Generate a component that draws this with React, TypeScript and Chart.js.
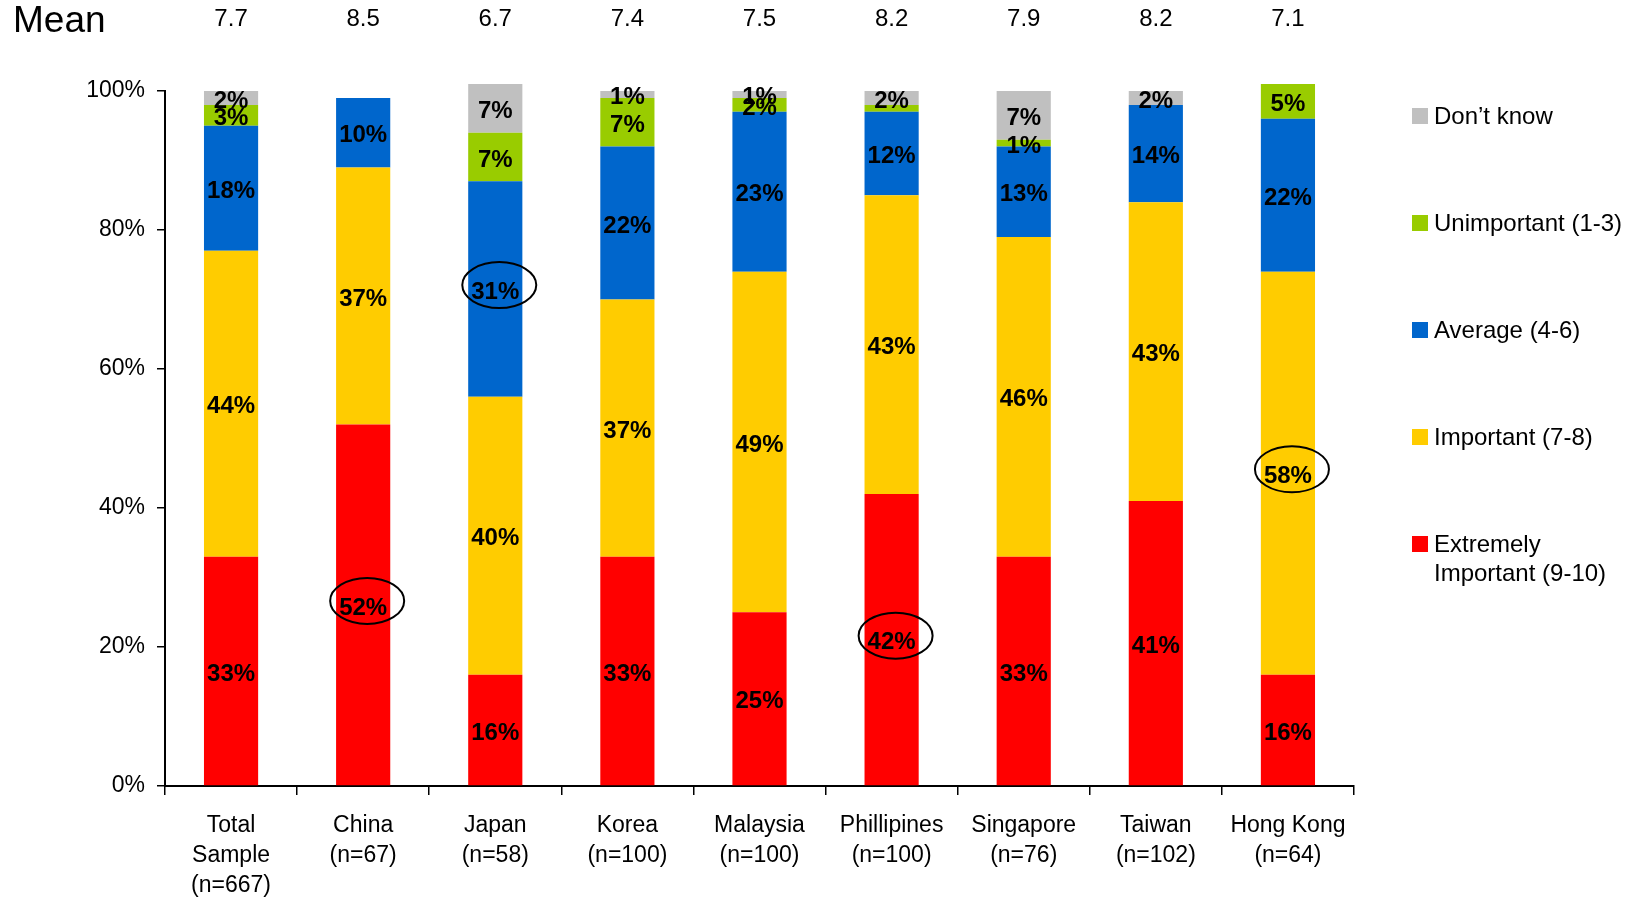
import { useEffect, useRef } from "react";
import { Chart, registerables } from "chart.js";
Chart.register(...registerables);

const categories = [
  ["Total", "Sample", "(n=667)"],
  ["China", "(n=67)"],
  ["Japan", "(n=58)"],
  ["Korea", "(n=100)"],
  ["Malaysia", "(n=100)"],
  ["Phillipines", "(n=100)"],
  ["Singapore", "(n=76)"],
  ["Taiwan", "(n=102)"],
  ["Hong Kong", "(n=64)"],
];
const means = ["7.7", "8.5", "6.7", "7.4", "7.5", "8.2", "7.9", "8.2", "7.1"];

const extremelyImportant = [33, 52, 16, 33, 25, 42, 33, 41, 16];
const important = [44, 37, 40, 37, 49, 43, 46, 43, 58];
const average = [18, 10, 31, 22, 23, 12, 13, 14, 22];
const unimportant = [3, 0, 7, 7, 2, 1, 1, 0, 5];
const dontKnow = [2, 0, 7, 1, 1, 2, 7, 2, 0];

const seriesNames = [
  ["Extremely", "Important (9-10)"],
  ["Important (7-8)"],
  ["Average (4-6)"],
  ["Unimportant (1-3)"],
  ["Don\u2019t know"],
];
const seriesColors = ["#FF0000", "#FFCC00", "#0066CC", "#99CC00", "#C0C0C0"];

const yTicks = [0, 20, 40, 60, 80, 100];

// [series index, category index] of segments without a label
const unlabeled = [[3, 5]];
// [series index, category index] of circled labels
const circled = [[0, 1], [2, 2], [0, 5], [1, 8]];

const FONT = "'Liberation Sans', Arial, Helvetica, sans-serif";

export default function App() {
  const ref = useRef<HTMLCanvasElement | null>(null);
  useEffect(() => {
    document.body.style.margin = "0";
    const series = [extremelyImportant, important, average, unimportant, dontKnow];
    const overlay = {
      id: "overlay",
      afterDatasetsDraw(chart: any) {
        const ctx = chart.ctx;
        const area = chart.chartArea;
        ctx.save();
        // segment labels
        ctx.fillStyle = "#000";
        ctx.font = `bold 24px ${FONT}`;
        ctx.textAlign = "center";
        ctx.textBaseline = "middle";
        chart.data.datasets.forEach((ds: any, di: number) => {
          const meta = chart.getDatasetMeta(di);
          meta.data.forEach((el: any, i: number) => {
            const v = ds.data[i];
            if (!v) return;
            if (unlabeled.some(([a, b]) => a === di && b === i)) return;
            const cy = (el.y + el.base) / 2 + 3;
            ctx.fillText(v + "%", el.x, cy);
          });
        });
        // ellipses
        ctx.strokeStyle = "#000";
        ctx.lineWidth = 2;
        circled.forEach(([di, i]) => {
          const el = chart.getDatasetMeta(di).data[i];
          const cx = el.x + 4;
          const cy = (el.y + el.base) / 2 - 4;
          ctx.beginPath();
          ctx.ellipse(cx, cy, 37, 23, 0, 0, Math.PI * 2);
          ctx.stroke();
        });
        // mean row
        ctx.font = `24px ${FONT}`;
        const m0 = chart.getDatasetMeta(0);
        means.forEach((m, i) => {
          ctx.fillText(m, m0.data[i].x, 19);
        });
        ctx.textAlign = "left";
        ctx.font = `37px ${FONT}`;
        ctx.fillText("Mean", 13, 22);
        // legend
        ctx.font = `24px ${FONT}`;
        const lx = area.right + 58;
        const ly0 = area.top + 25;
        const step = 107;
        for (let k = 0; k < seriesNames.length; k++) {
          const si = seriesNames.length - 1 - k;
          const y = ly0 + k * step;
          ctx.fillStyle = seriesColors[si];
          ctx.fillRect(lx, y - 8, 16, 16);
          ctx.fillStyle = "#000";
          seriesNames[si].forEach((line, li) => {
            ctx.fillText(line, lx + 22, y + 1 + li * 29);
          });
        }
        ctx.restore();
      },
    };
    const chart = new Chart(ref.current as HTMLCanvasElement, {
      type: "bar",
      data: {
        labels: categories,
        datasets: series.map((d, i) => ({
          label: seriesNames[i].join(" "),
          data: d,
          backgroundColor: seriesColors[i],
          borderWidth: 0,
          clip: false as any,
          categoryPercentage: 1,
          barPercentage: 0.41,
        })),
      },
      options: {
        animation: false,
        responsive: false,
        maintainAspectRatio: false,
        layout: { padding: { top: 91, right: 284, left: 0, bottom: 0 } },
        plugins: { legend: { display: false }, tooltip: { enabled: false } },
        scales: {
          x: {
            stacked: true,
            grid: {
              offset: true,
              drawOnChartArea: false,
              drawTicks: true,
              tickLength: 9,
              color: "#000",
              lineWidth: 1.5,
            },
            border: { display: true, color: "#000", width: 2 },
            ticks: {
              color: "#000",
              font: { family: FONT, size: 23, lineHeight: 1.3 },
              padding: 16,
              maxRotation: 0,
              autoSkip: false,
            },
            afterFit: (s: any) => {
              s.height = 112;
            },
          },
          y: {
            stacked: true,
            min: 0,
            max: 100,
            afterBuildTicks: (s: any) => {
              s.ticks = yTicks.map((v) => ({ value: v }));
            },
            grid: {
              drawOnChartArea: false,
              drawTicks: true,
              tickLength: 8,
              color: "#000",
              lineWidth: 1.5,
            },
            border: { display: true, color: "#000", width: 2 },
            ticks: {
              color: "#000",
              font: { family: FONT, size: 23 },
              padding: 12,
              callback: (v: any) => v + "%",
            },
            afterFit: (s: any) => {
              s.width = 165;
            },
          },
        },
      },
      plugins: [overlay],
    });
    return () => chart.destroy();
  }, []);
  return (
    <div style={{ position: "absolute", left: 0, top: 0, width: 1638, height: 898 }}>
      <canvas ref={ref} width={1638} height={898} style={{ width: 1638, height: 898 }} />
    </div>
  );
}
